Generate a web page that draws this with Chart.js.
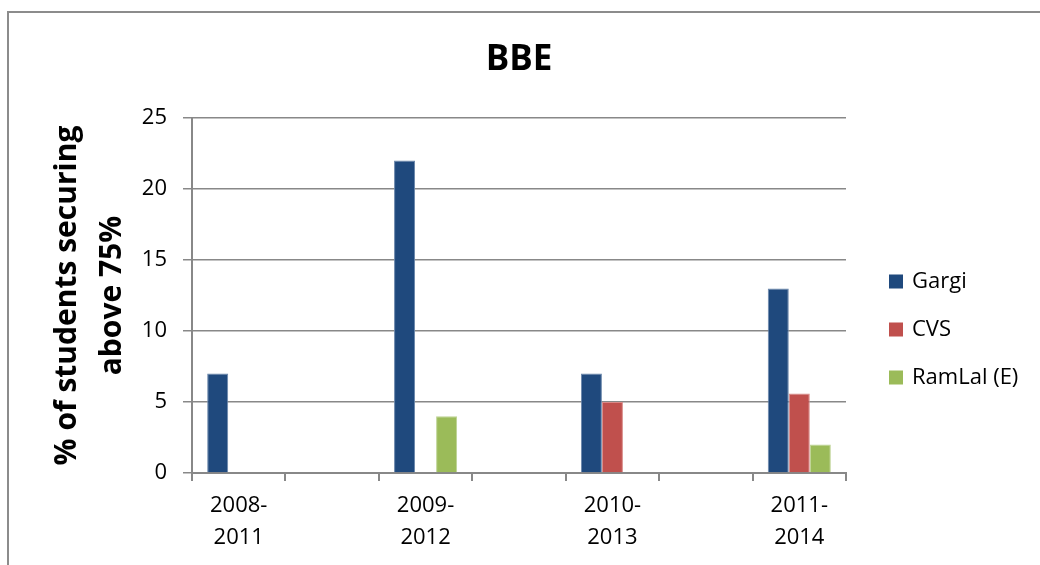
<!DOCTYPE html>
<html>
<head>
<meta charset="utf-8">
<title>BBE</title>
<script src="https://cdn.jsdelivr.net/npm/chart.js@4/dist/chart.umd.min.js"></script>
<style>
  html, body { margin: 0; padding: 0; background: #fff; }
  #wrap { width: 1040px; height: 565px; }
</style>
</head>
<body>
<div id="wrap"><canvas id="bbeChart" width="1040" height="565"></canvas></div>
<script>
// ===== Dữ liệu =====
const periods = [["2008-", "2011"], ["2009-", "2012"], ["2010-", "2013"], ["2011-", "2014"]];
const gargi = [7, 22, 7, 13];
const cvs = [0, 0, 5, 5.6];
const ramlal = [0, 4, 0, 2];
const yTicks = [0, 5, 10, 15, 20, 25];

// chèn cột trống giữa các khóa
function spaced(arr, blank) {
  const out = [];
  arr.forEach((v, i) => {
    if (i > 0) out.push(blank);
    out.push(v);
  });
  return out;
}

const GRID = "#888888";
Chart.defaults.font.family = "'Open Sans', sans-serif";
Chart.defaults.color = "#000";

// khung viền ngoài
const frame = {
  id: "frame",
  beforeDraw(chart) {
    const c = chart.ctx;
    c.save();
    c.strokeStyle = "#8c8c8c";
    c.lineWidth = 2;
    c.beginPath();
    c.moveTo(8, chart.height);
    c.lineTo(8, 12);
    c.lineTo(chart.width, 12);
    c.stroke();
    c.restore();
  },
};

// chú thích bên phải
const sideLegend = {
  id: "sideLegend",
  afterDraw(chart) {
    const c = chart.ctx;
    const area = chart.chartArea;
    const mid = (area.top + area.bottom) / 2 + 34;
    const n = chart.data.datasets.length;
    c.save();
    c.font = "22px 'Open Sans', sans-serif";
    c.textBaseline = "middle";
    c.textAlign = "left";
    chart.data.datasets.forEach((ds, i) => {
      const y = mid + (i - (n - 1) / 2) * 48;
      const x = area.right + 43;
      c.fillStyle = ds.backgroundColor;
      c.fillRect(x, y - 7, 14, 14);
      c.fillStyle = "#000";
      c.fillText(ds.label, x + 23, y);
    });
    c.restore();
  },
};

const ctx = document.getElementById("bbeChart");
new Chart(ctx, {
  type: "bar",
  data: {
    labels: spaced(periods, ""),
    datasets: [
      { label: "Gargi", data: spaced(gargi, null), backgroundColor: "#1F497D", borderColor: "#6a86ab" },
      { label: "CVS", data: spaced(cvs, null), backgroundColor: "#C0504D", borderColor: "#d98a88" },
      { label: "RamLal (E)", data: spaced(ramlal, null), backgroundColor: "#9BBB59", borderColor: "#bdd393" },
    ],
  },
  options: {
    responsive: false,
    animation: false,
    devicePixelRatio: 1,
    layout: { padding: { left: 0, right: 194, top: 0, bottom: 0 } },
    datasets: {
      bar: { categoryPercentage: 0.675, barPercentage: 1, borderWidth: 1 },
    },
    plugins: {
      legend: { display: false },
      tooltip: { enabled: false },
      title: {
        display: true,
        fullSize: false,
        text: "BBE",
        font: { size: 35, weight: "bold" },
        padding: { top: 39, bottom: 37 },
      },
    },
    scales: {
      x: {
        grid: { drawOnChartArea: false, color: GRID, lineWidth: 2, tickLength: 8, offset: true },
        border: { color: GRID, width: 2 },
        ticks: { font: { size: 22, lineHeight: 1.45 }, padding: 9, maxRotation: 0, autoSkip: false },
        afterFit: (s) => { s.height = 92; },
      },
      y: {
        min: 0,
        max: 25,
        afterBuildTicks: (s) => { s.ticks = yTicks.map((v) => ({ value: v })); },
        grid: { color: GRID, lineWidth: 1.5, tickLength: 9 },
        border: { color: GRID, width: 2 },
        ticks: { font: { size: 22 }, padding: 16 },
        title: {
          display: true,
          text: ["% of students securing", "above 75%"],
          font: { size: 30, weight: "bold", lineHeight: 1.5 },
          padding: { top: 45, bottom: 0 },
        },
        afterFit: (s) => { s.width = 192; },
      },
    },
  },
  plugins: [frame, sideLegend],
});
</script>
</body>
</html>
